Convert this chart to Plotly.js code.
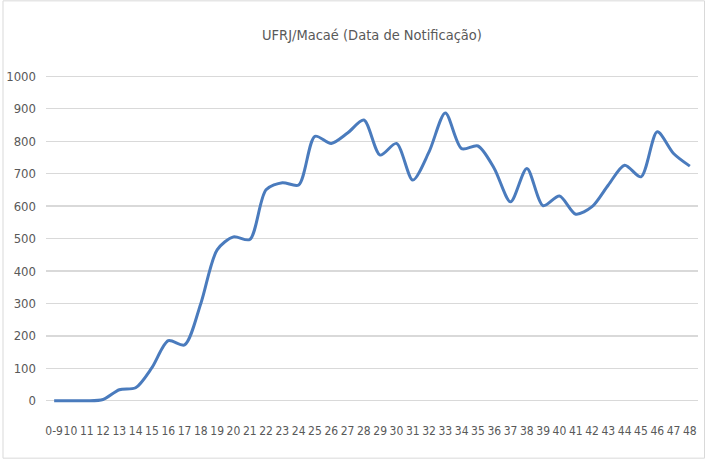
<!DOCTYPE html>
<html>
<head>
<meta charset="utf-8">
<script src="https://cdn.plot.ly/plotly-3.0.1.min.js"></script>
<style>html,body{margin:0;padding:0;background:#fff;}#chart{width:707px;height:462px;}</style>
</head>
<body>
<div id="chart"></div>
<script>
const categories = ["0-9","10","11","12","13","14","15","16","17","18","19","20","21","22","23","24","25","26","27","28","29","30","31","32","33","34","35","36","37","38","39","40","41","42","43","44","45","46","47","48"];
const values = [0,0,0,4,34,40,102,185,172,300,465,505,497,650,672,665,815,793,825,865,757,793,680,767,887,777,785,716,613,716,601,631,575,598,665,726,690,829,762,723];
const yTicks = [0,100,200,300,400,500,600,700,800,900,1000];

const FONT = '"DejaVu Sans Condensed", "Liberation Sans Narrow", sans-serif';
const W = 707, H = 462;
const L = 46, R = 698, T = 72.75, B = 404.25;
const px = x => (x - L) / (R - L);
const py = y => (B - y) / (B - T);

const trace = {
  x: categories,
  y: values,
  type: 'scatter',
  mode: 'lines',
  line: {color: '#4a7bbd', width: 3, shape: 'spline', smoothing: 0.8},
  hoverinfo: 'x+y'
};

const layout = {
  width: W, height: H,
  margin: {l: L, r: W - R, t: T, b: H - B, pad: 0},
  paper_bgcolor: '#ffffff',
  plot_bgcolor: '#ffffff',
  showlegend: false,
  title: {
    text: 'UFRJ/Macaé (Data de Notificação)',
    font: {family: FONT, size: 14.5, color: '#595959'},
    x: 0.5, xanchor: 'center', xref: 'paper',
    y: 1 - 35 / H, yanchor: 'middle', yref: 'container'
  },
  xaxis: {
    type: 'category',
    range: [-0.5, categories.length - 0.5],
    showgrid: false, zeroline: false, showline: false,
    ticks: '', tickangle: 0,
    tickfont: {family: FONT, size: 12, color: '#595959'},
    ticklabelstandoff: 18,
    fixedrange: true
  },
  yaxis: {
    range: [-10, 1010],
    tickvals: yTicks,
    ticktext: yTicks.map(String),
    showgrid: true, gridcolor: '#d9d9d9', gridwidth: 1.3,
    zeroline: false, showline: false, ticks: '',
    tickfont: {family: FONT, size: 13, color: '#595959'},
    ticklabelstandoff: 9,
    fixedrange: true
  },
  shapes: [{
    type: 'rect', xref: 'paper', yref: 'paper',
    x0: px(3), x1: px(704.5), y0: py(458.5), y1: py(0.5),
    line: {color: '#d9d9d9', width: 1}, fillcolor: 'rgba(0,0,0,0)', layer: 'below'
  }]
};

Plotly.newPlot('chart', [trace], layout, {displayModeBar: false, staticPlot: true});
</script>
</body>
</html>
